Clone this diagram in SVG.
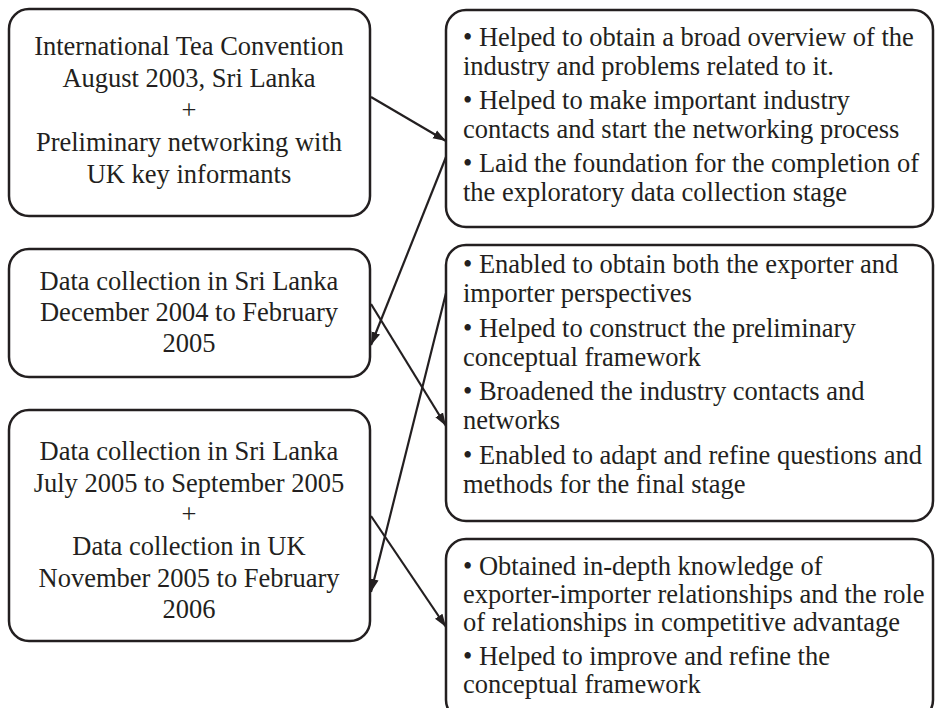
<svg xmlns="http://www.w3.org/2000/svg" width="935" height="708" viewBox="0 0 935 708">
<style>
.box{fill:#fff;stroke:#231f20;stroke-width:2.5}
.t{font-family:"Liberation Serif","Times New Roman",serif;font-size:26.5px;fill:#231f20}
.c{text-anchor:middle}
.conn{stroke:#231f20;stroke-width:2.2;fill:none;marker-end:url(#ah)}
</style>
<defs>
<marker id="ah" markerUnits="userSpaceOnUse" markerWidth="14" markerHeight="10" refX="13" refY="5" orient="auto">
<path d="M0,0.5 L13,5 L0,9.5 z" fill="#231f20"/>
</marker>
</defs>
<rect width="935" height="708" fill="#fff"/>
<g id="n1">
<rect class="box" x="9" y="9" width="361" height="207" rx="20"/>
<text class="t c" x="189" y="55">International Tea Convention</text>
<text class="t c" x="189" y="87">August 2003, Sri Lanka</text>
<text class="t c" x="189" y="119">+</text>
<text class="t c" x="189" y="151">Preliminary networking with</text>
<text class="t c" x="189" y="183">UK key informants</text>
</g>
<g id="n2">
<rect class="box" x="9" y="249" width="361" height="128" rx="20"/>
<text class="t c" x="189" y="290">Data collection in Sri Lanka</text>
<text class="t c" x="189" y="321">December 2004 to February</text>
<text class="t c" x="189" y="352">2005</text>
</g>
<g id="n3">
<rect class="box" x="9" y="410" width="361" height="231" rx="20"/>
<text class="t c" x="189" y="460">Data collection in Sri Lanka</text>
<text class="t c" x="189" y="492">July 2005 to September 2005</text>
<text class="t c" x="189" y="523">+</text>
<text class="t c" x="189" y="555">Data collection in UK</text>
<text class="t c" x="189" y="587">November 2005 to February</text>
<text class="t c" x="189" y="618">2006</text>
</g>
<g id="r1">
<rect class="box" x="446" y="10" width="487" height="217" rx="20"/>
<text class="t" x="463" y="46">• Helped to obtain a broad overview of the</text>
<text class="t" x="463" y="75">industry and problems related to it.</text>
<text class="t" x="463" y="109">• Helped to make important industry</text>
<text class="t" x="463" y="138">contacts and start the networking process</text>
<text class="t" x="463" y="172">• Laid the foundation for the completion of</text>
<text class="t" x="463" y="201">the exploratory data collection stage</text>
</g>
<g id="r2">
<rect class="box" x="446" y="245" width="487" height="276" rx="20"/>
<text class="t" x="463" y="273">• Enabled to obtain both the exporter and</text>
<text class="t" x="463" y="302">importer perspectives</text>
<text class="t" x="463" y="337">• Helped to construct the preliminary</text>
<text class="t" x="463" y="366">conceptual framework</text>
<text class="t" x="463" y="400">• Broadened the industry contacts and</text>
<text class="t" x="463" y="429">networks</text>
<text class="t" x="463" y="464">• Enabled to adapt and refine questions and</text>
<text class="t" x="463" y="493">methods for the final stage</text>
</g>
<g id="r3">
<rect class="box" x="446" y="539" width="487" height="181" rx="20"/>
<text class="t" x="463" y="575">• Obtained in-depth knowledge of</text>
<text class="t" x="463" y="603">exporter-importer relationships and the role</text>
<text class="t" x="463" y="631">of relationships in competitive advantage</text>
<text class="t" x="463" y="665">• Helped to improve and refine the</text>
<text class="t" x="463" y="693">conceptual framework</text>
</g>
<g id="connectors">
<line class="conn" x1="371" y1="97" x2="446" y2="141"/>
<line class="conn" x1="446" y1="157" x2="371" y2="345"/>
<line class="conn" x1="371" y1="304" x2="446" y2="426"/>
<line class="conn" x1="446" y1="293" x2="371" y2="592"/>
<line class="conn" x1="371" y1="516" x2="446" y2="627"/>
</g>
</svg>
